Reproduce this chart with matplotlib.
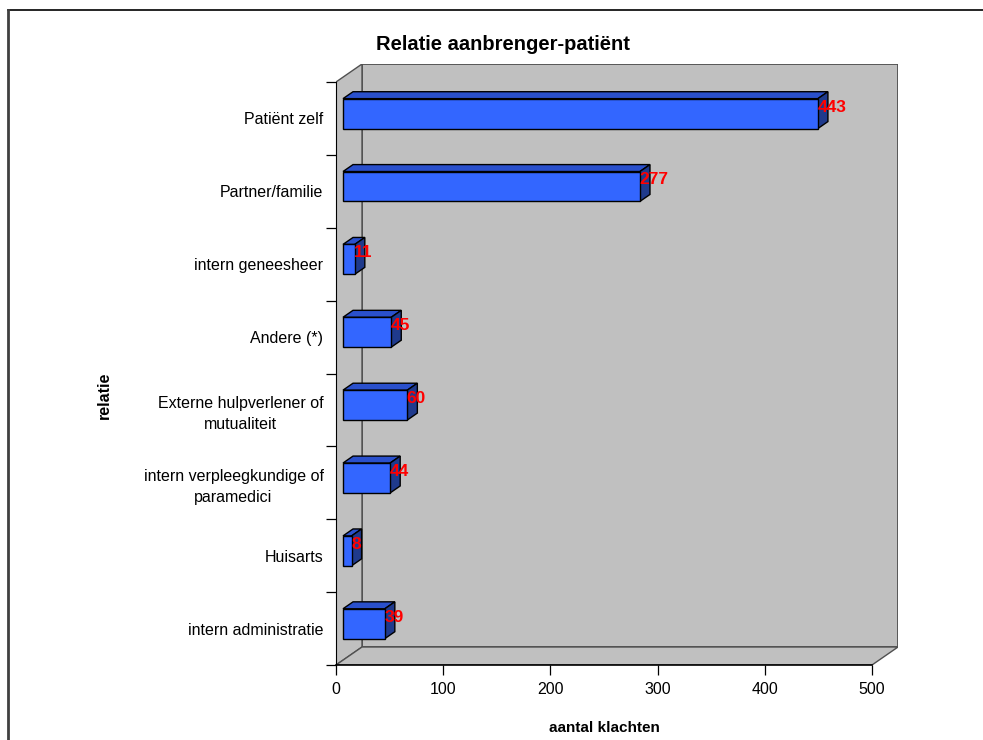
#!/usr/bin/env python3
# -*- coding: utf-8 -*-
import matplotlib
matplotlib.use("Agg")
from matplotlib import rcParams, pyplot as plt
from matplotlib.patches import Polygon, Rectangle
from matplotlib.lines import Line2D

rcParams["font.family"] = ["Liberation Sans", "DejaVu Sans"]

# bottom to top
categories = [
    "intern administratie",
    "Huisarts",
    "intern verpleegkundige of\nparamedici",
    "Externe hulpverlener of\nmutualiteit",
    "Andere (*)",
    "intern geneesheer",
    "Partner/familie",
    "Patiënt zelf",
]
values = [39, 8, 44, 60, 45, 11, 277, 443]
x_ticks = [0, 100, 200, 300, 400, 500]

W, H = 983, 740
GREY = "#C0C0C0"
EDGE = "#505050"
FRONT = "#3366FF"
TOP = "#2A50CC"
SIDE = "#1F3A8C"

fig = plt.figure(figsize=(W / 100, H / 100), dpi=100)

# plot box in pixels (front-left x, back-right x, front bottom, back top)
left, right, bottom, top = 336, 898, 665, 64
ax = fig.add_axes([left / W, 1 - bottom / H, (right - left) / W, (bottom - top) / H])

n = len(categories)
xmax = x_ticks[-1]
px_x = (872 - left) / xmax
px_y = (bottom - 82) / n
dx = (right - 872) / px_x   # depth offset in data units
dy = (82 - top) / px_y
ax.set_xlim(0, xmax + dx)
ax.set_ylim(0, n + dy)

# walls and floor
ax.add_patch(Rectangle((dx, dy), xmax, n, facecolor=GREY, edgecolor=EDGE, lw=1.3, zorder=0))
ax.add_patch(Polygon([(0, 0), (dx, dy), (dx, n + dy), (0, n)], closed=True,
                     facecolor=GREY, edgecolor=EDGE, lw=1.0, zorder=0))
ax.add_patch(Polygon([(0, 0), (xmax, 0), (xmax + dx, dy), (dx, dy)], closed=True,
                     facecolor=GREY, edgecolor=EDGE, lw=1.0, zorder=0))

# bars: front, top and side faces
f0 = 0.27
bd = 0.385
bh = 0.41
x0 = f0 * dx
for i, v in enumerate(values):
    c = i + 0.5 + f0 * dy
    yb, yt = c - bh / 2, c + bh / 2
    ox, oy = bd * dx, bd * dy
    ax.add_patch(Polygon([(x0, yt), (x0 + v, yt), (x0 + v + ox, yt + oy), (x0 + ox, yt + oy)],
                         closed=True, facecolor=TOP, edgecolor="black", lw=1.0, zorder=3))
    ax.add_patch(Polygon([(x0 + v, yb), (x0 + v + ox, yb + oy), (x0 + v + ox, yt + oy), (x0 + v, yt)],
                         closed=True, facecolor=SIDE, edgecolor="black", lw=1.0, zorder=3))
    ax.add_patch(Rectangle((x0, yb), v, bh, facecolor=FRONT, edgecolor="black", lw=1.0, zorder=4))
    ax.text(x0 + v - 0.5, c + 0.09, str(v), color="red", fontsize=12.5, fontweight="bold",
            ha="left", va="center", zorder=6)

# front axes
for s in ["top", "right"]:
    ax.spines[s].set_visible(False)
ax.spines["left"].set_bounds(0, n)
ax.spines["bottom"].set_bounds(0, xmax)
ax.spines["left"].set_zorder(5)
ax.spines["bottom"].set_zorder(5)
ax.spines["bottom"].set_linewidth(1.2)

ax.set_xticks(x_ticks)
ax.set_xticklabels([str(t) for t in x_ticks])
ax.tick_params(axis="x", length=7, width=0.9, pad=5, labelsize=11.5)

ax.set_yticks([i + 0.5 for i in range(n)])
ax.set_yticklabels(categories, fontsize=11.5, ha="center", linespacing=1.45)
ax.set_yticks(list(range(n + 1)), minor=True)
ax.tick_params(axis="y", which="major", length=0, pad=9)
ax.tick_params(axis="y", which="minor", length=7, width=0.9)
for lab in ax.get_yticklabels():
    lab.set_multialignment("center")
    lab.set_horizontalalignment("right")

fig.text(503 / W, 1 - 44 / H, "Relatie aanbrenger-patiënt", fontsize=14.5, fontweight="bold",
         ha="center", va="center")
fig.text(604 / W, 1 - 728 / H, "aantal klachten", fontsize=11, fontweight="bold",
         ha="center", va="center")
fig.text(104 / W, 1 - 395 / H, "relatie", fontsize=11.5, fontweight="bold", rotation=90,
         ha="center", va="center")

# outer chart border
fig.add_artist(Line2D([7.5 / W, 1], [1 - 10 / H, 1 - 10 / H], color="black", lw=1.2,
                      transform=fig.transFigure))
fig.add_artist(Line2D([7.5 / W, 7.5 / W], [0, 1 - 10 / H], color="#404040", lw=2,
                      transform=fig.transFigure))

fig.savefig("out.png", dpi=100)
